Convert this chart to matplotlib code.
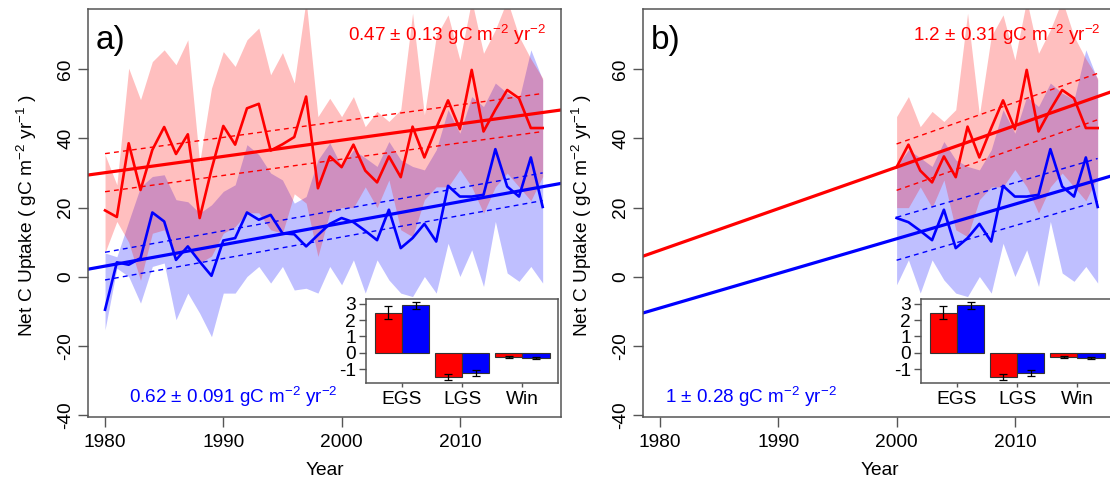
import numpy as np
import matplotlib.pyplot as plt

plt.rcParams['font.family'] = 'Liberation Sans'
plt.rcParams['mathtext.fontset'] = 'custom'
plt.rcParams['mathtext.rm'] = 'Liberation Sans'
plt.rcParams['mathtext.it'] = 'Liberation Sans:italic'
plt.rcParams['mathtext.sf'] = 'Liberation Sans'
plt.rcParams['axes.unicode_minus'] = False

# annual net C uptake, 1980-2017
years = np.arange(1980, 2018)

red_mean = [19.2, 17.3, 38.6, 25.1, 36.7, 43.3, 35.5, 41.2, 17.0, 31.0,
            43.6, 38.2, 48.7, 50.0, 36.5, 38.3, 40.4, 52.1, 25.6, 34.8,
            31.7, 38.2, 30.7, 27.3, 34.8, 28.8, 43.4, 34.5, 43.0, 51.0,
            42.7, 59.8, 42.0, 48.3, 54.0, 51.6, 43.0, 43.0]
red_upper = [35.3, 26.6, 60.3, 51.2, 62.2, 65.6, 61.3, 68.5, 33.0, 54.5,
             65.1, 60.8, 68.5, 71.9, 58.4, 64.8, 56.0, 80.0, 46.3, 51.6,
             46.3, 52.1, 43.4, 47.8, 44.9, 48.3, 76.2, 46.8, 69.5, 75.7,
             62.7, 80.0, 64.6, 71.4, 80.0, 69.5, 63.0, 57.4]
red_lower = [7.0, 16.0, 10.0, -1.0, 12.6, 13.6, 6.0, 8.8, 4.0, 6.0,
             12.6, 14.5, 18.5, 18.5, 13.6, 12.6, 24.0, 21.3, 5.9, 18.5,
             20.0, 20.0, 26.0, 20.0, 28.0, 13.6, 11.6, 22.3, 26.0, 26.0,
             31.0, 26.0, 18.4, 26.0, 30.0, 26.0, 22.0, 29.0]

blue_mean = [-9.5, 4.2, 3.5, 5.4, 18.6, 16.0, 4.9, 8.8, 4.4, 0.3,
             10.5, 11.2, 18.6, 16.5, 17.9, 12.6, 12.3, 8.8, 12.1, 15.3,
             17.0, 15.8, 13.3, 10.6, 19.4, 8.3, 11.2, 15.3, 10.2, 26.3,
             23.2, 23.2, 23.7, 36.9, 26.1, 23.2, 34.5, 20.2]
blue_upper = [6.9, 5.8, 16.0, 26.0, 29.0, 29.5, 22.3, 21.7, 18.4, 20.8,
              24.7, 26.6, 38.2, 35.3, 30.0, 28.0, 21.3, 23.2, 33.8, 38.7,
              31.9, 36.7, 34.4, 31.9, 39.1, 33.8, 31.9, 30.9, 36.7, 48.3,
              41.5, 52.1, 49.2, 56.0, 53.1, 51.2, 65.6, 56.9]
blue_lower = [-15.3, 2.5, 0.1, -7.6, 3.0, 4.0, -12.4, -4.7, -10.5, -17.3,
              -4.7, -4.7, 0.1, 3.0, -1.8, 3.0, -3.8, -3.3, -4.7, 3.0,
              -2.3, 4.9, -4.7, 4.9, -0.9, -4.7, -5.7, 0.1, -4.7, 9.7,
              0.1, 7.8, -2.8, 16.0, 1.1, -1.3, 3.0, -1.8]

# linear trends: (slope, value at reference year, half-width of dashed band)
trend_a = {'red': (0.47, 30.1, 5.5), 'blue': (0.62, 3.1, 4.0)}
trend_b = {'red': (1.2, 31.7, 6.7), 'blue': (1.0, 11.0, 6.2)}
ref_a, ref_b = 1980, 2000

labels_a = {'red': r'0.47 ± 0.13 gC m$^{-2}$ yr$^{-2}$',
            'blue': r'0.62 ± 0.091 gC m$^{-2}$ yr$^{-2}$'}
labels_b = {'red': r'1.2 ± 0.31 gC m$^{-2}$ yr$^{-2}$',
            'blue': r'1 ± 0.28 gC m$^{-2}$ yr$^{-2}$'}

# seasonal contributions (early / late growing season, winter)
seasons = ['EGS', 'LGS', 'Win']
red_season = [2.47, -1.46, -0.24]
red_season_err = [0.37, 0.18, 0.05]
blue_season = [2.9, -1.23, -0.3]
blue_season_err = [0.2, 0.18, 0.05]

FRAME = '#555555'
FS = 13.8

fig = plt.figure(figsize=(11.1, 4.84), dpi=100)


def style_frame(ax):
    for s in ax.spines.values():
        s.set_color(FRAME)
        s.set_linewidth(1.1)


def draw_panel(left, first_year, trend, ref, texts, blue_x, tag):
    ax = fig.add_axes([left, 0.13843, 0.42613, 0.84298])
    sel = years >= first_year
    yrs = years[sel]
    pick = lambda v: np.asarray(v)[sel]

    ax.fill_between(yrs, pick(blue_lower), pick(blue_upper),
                    color='blue', alpha=0.25, lw=0)
    ax.plot(yrs, pick(blue_mean), color='blue', lw=1.9)
    ax.fill_between(yrs, pick(red_lower), pick(red_upper),
                    color='red', alpha=0.25, lw=0)
    ax.plot(yrs, pick(red_mean), color='red', lw=1.9)

    for col in ('red', 'blue'):
        slope, y0, hw = trend[col]
        ax.axline((ref, y0), slope=slope, color=col, lw=2.3)
        x_end = np.array([yrs[0], yrs[-1]])
        fit = y0 + slope * (x_end - ref)
        for off in (hw, -hw):
            ax.plot(x_end, fit + off, color=col, lw=1, dashes=(3.5, 3))

    ax.set_xticks([1980, 1990, 2000, 2010])
    ax.set_yticks([-40, -20, 0, 20, 40, 60])
    ax.set_xlim(1978.56, 2018.55)
    ax.set_ylim(-40.5, 77.4)
    ax.tick_params(axis='both', length=7, width=1, color=FRAME,
                   labelsize=FS)
    ax.tick_params(axis='x', pad=5)
    ax.tick_params(axis='y', pad=3, labelrotation=90)
    for lab in ax.get_yticklabels():
        lab.set_va('center')
    style_frame(ax)

    ax.text(2017.28, 68.2, texts['red'], color='red', fontsize=13.6,
            ha='right', va='baseline')
    ax.text(blue_x, -36.4, texts['blue'], color='blue', fontsize=13.6,
            ha='left', va='baseline')
    ax.text(0.017, 0.924, tag, transform=ax.transAxes, fontsize=24,
            ha='left', va='center')
    ax.set_xlabel('Year', fontsize=FS, labelpad=8)
    return ax


def draw_inset(left):
    ins = fig.add_axes([left, 0.2087, 0.173, 0.1736])
    gx = np.array([0.0, 2.2, 4.4])
    ins.bar(gx - 0.5, red_season, width=1, color='red', edgecolor='#333333',
            lw=0.8, yerr=red_season_err, capsize=3,
            error_kw=dict(lw=0.9, capthick=0.9))
    ins.bar(gx + 0.5, blue_season, width=1, color='blue', edgecolor='#333333',
            lw=0.8, yerr=blue_season_err, capsize=3,
            error_kw=dict(lw=0.9, capthick=0.9))
    ins.set_yticks([-1, 0, 1, 2, 3])
    ins.set_xticks(gx, seasons)
    ins.set_xlim(-1.32, 5.71)
    ins.set_ylim(-1.85, 3.3)
    ins.tick_params(axis='y', length=5, width=1, color=FRAME,
                    labelsize=FS, pad=2)
    ins.tick_params(axis='x', length=3, width=1, color=FRAME,
                    labelsize=FS, pad=3)
    style_frame(ins)
    ins.set_facecolor('white')
    return ins


ylab = r'Net C Uptake ( gC m$^{-2}$ yr$^{-1}$ )'

draw_panel(0.07928, 1980, trend_a, ref_a, labels_a, 1982.03, 'a)')
draw_inset(0.3297)
fig.text(27 / 1110, 1 - 215 / 484, ylab, rotation=90, fontsize=FS,
         ha='center', va='center')

draw_panel(0.57928, 2000, trend_b, ref_b, labels_b, 1980.4, 'b)')
draw_inset(0.8297)
fig.text(582 / 1110, 1 - 215 / 484, ylab, rotation=90, fontsize=FS,
         ha='center', va='center')

fig.savefig('out.png', dpi=100)
